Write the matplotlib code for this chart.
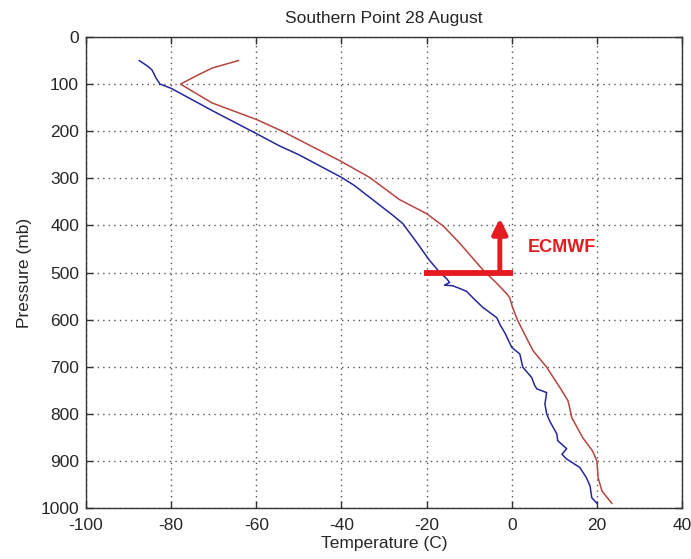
import matplotlib
matplotlib.use("Agg")
import matplotlib.pyplot as plt

plt.rcParams['font.family'] = ['Liberation Sans', 'DejaVu Sans']
plt.rcParams['axes.unicode_minus'] = False

# Observed sounding (blue)
obs_temp = [-87.5, -85.5, -84.5, -83.5, -82.6, -80.0, -70.0, -60.0, -54.6, -50.0,
            -40.0, -37.0, -32.0, -28.0, -25.6, -22.0, -19.5, -16.9, -15.3, -14.6,
            -15.8, -13.9, -12.2, -10.6, -9.2, -6.8, -3.5, -2.8, -1.5, 0.0,
            1.9, 2.6, 4.7, 5.4, 5.9, 8.2, 7.8, 8.2, 8.9, 10.6,
            10.8, 12.9, 11.8, 12.9, 16.0, 17.5, 18.4, 18.8, 20.0]
obs_pres = [50, 62, 70, 88, 100, 109, 158, 205, 231, 250,
            298, 315, 350, 378, 396, 440, 472, 500, 513, 521,
            527, 528, 534, 540, 553, 574, 596, 610, 630, 659,
            673, 701, 723, 740, 747, 755, 779, 800, 815, 843,
            857, 874, 886, 896, 914, 935, 953, 978, 990]

# Model profile (red)
mod_temp = [-64.2, -70.4, -74.0, -77.8, -70.4, -60.0, -53.9, -47.0, -40.5, -33.4,
            -26.4, -20.0, -16.0, -12.2, -6.8, -3.5, -1.2, -0.5, 0.2, 1.4,
            5.0, 8.2, 11.3, 13.2, 13.6, 14.1, 16.7, 19.0, 20.0, 20.3,
            21.2, 23.5]
mod_pres = [50, 66, 82, 100, 140, 175, 200, 232, 262, 298,
            345, 375, 402, 438, 494, 523, 545, 553, 574, 602,
            666, 701, 744, 772, 787, 808, 851, 879, 900, 936,
            964, 990]

x_ticks = [-100, -80, -60, -40, -20, 0, 20, 40]
y_ticks = [0, 100, 200, 300, 400, 500, 600, 700, 800, 900, 1000]

# ECMWF level marker
ecmwf_level = 500
ecmwf_bar = [-20.5, 0.2]
ecmwf_arrow_x = -2.8
ecmwf_arrow_top = 385

RED = '#e41b1f'
TXT = '#262626'

fig = plt.figure(figsize=(6.91, 5.59), dpi=100)
ax = fig.add_axes([0.1245, 0.0912, 0.8625, 0.8426])

ax.plot(obs_temp, obs_pres, color='#26279a', lw=1.1)
ax.plot(mod_temp, mod_pres, color='#b5453f', lw=1.1)

ax.plot(ecmwf_bar, [ecmwf_level, ecmwf_level], color=RED, lw=4.2,
        solid_capstyle='butt', zorder=5)
ax.annotate('', xy=(ecmwf_arrow_x, ecmwf_arrow_top),
            xytext=(ecmwf_arrow_x, ecmwf_level),
            arrowprops=dict(arrowstyle='-|>,head_length=0.9,head_width=0.45',
                            color=RED, lw=3.5, shrinkA=0, shrinkB=0),
            zorder=5)
ax.text(3.7, 447, 'ECMWF', color=RED, fontsize=13, fontweight='bold',
        ha='left', va='center')

ax.set_xlim(-100, 40)
ax.set_ylim(1000, 0)
ax.set_xticks(x_ticks)
ax.set_yticks(y_ticks)
ax.grid(True, color='#555555', linestyle=(0, (1, 3)), lw=1.0)

for s in ax.spines.values():
    s.set_color('#333333')
    s.set_linewidth(1.0)

ax.tick_params(direction='in', top=True, right=True, length=5, width=1,
               colors='#333333', labelcolor=TXT, labelsize=12.5)
ax.tick_params(axis='x', pad=7)
ax.tick_params(axis='y', pad=5)

ax.set_title('Southern Point 28 August', fontsize=12.5, color=TXT, pad=10)
ax.set_xlabel('Temperature (C)', fontsize=12.5, color=TXT, labelpad=2)
ax.set_ylabel('Pressure (mb)', fontsize=12.5, color=TXT, labelpad=6)

fig.savefig('out.png', dpi=100, facecolor='white')
